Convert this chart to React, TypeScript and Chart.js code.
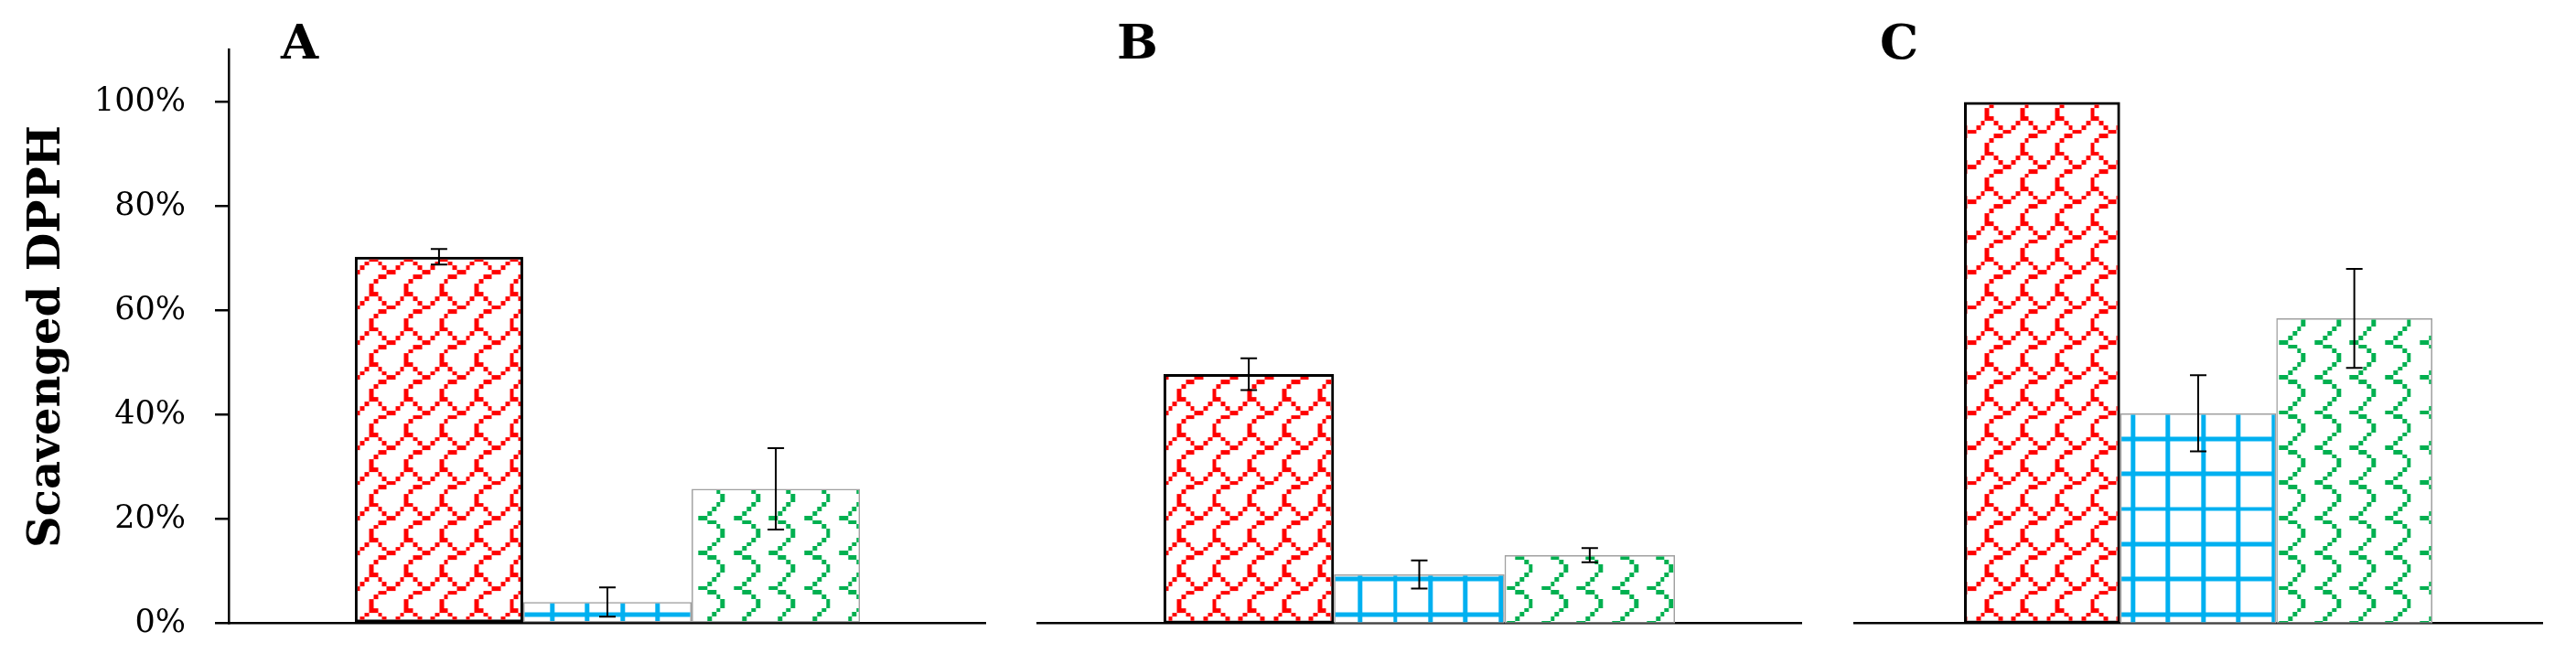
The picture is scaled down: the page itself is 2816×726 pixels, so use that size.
import React, { useEffect, useRef } from 'react';
import { Chart, registerables } from 'chart.js';

Chart.register(...registerables);

// ---------------- data ----------------
const panelLabels = ['A', 'B', 'C'];
const redValues = [70.3, 47.8, 100.0];
const redErrors = [1.5, 3.05, 0];
const blueValues = [4.1, 9.4, 40.3];
const blueErrors = [2.8, 2.7, 7.3];
const greenValues = [25.8, 13.1, 58.5];
const greenErrors = [7.8, 1.35, 9.5];
const yTickValues = [0, 20, 40, 60, 80, 100];
const yAxisMax = 110;
const yAxisTitle = 'Scavenged DPPH';

// ---------------- styling ----------------
const FONT = '"DejaVu Serif", "Liberation Serif", serif';
const CANVAS_H = 726;
const PAD_TOP = 54.4;
const PAD_BOTTOM = 44.3;

const PANEL_BOXES = [
  { left: 0, width: 1078, yWidth: 250, groupPct: 0.667, letterDx: 57 },
  { left: 1133, width: 837, yWidth: 0, groupPct: 0.668, letterDx: 88 },
  { left: 2026, width: 754, yWidth: 0, groupPct: 0.679, letterDx: 29 },
];

const SHINGLE = [
  '##......',
  '..#....#',
  '...#..#.',
  '....##..',
  '..##....',
  '.#......',
  '#.......',
  '#.......',
];
const GRID = [
  '########',
  '#.......',
  '#.......',
  '#.......',
  '#.......',
  '#.......',
  '#.......',
  '#.......',
];
const WAVE = [
  '##......',
  '..#.....',
  '...#....',
  '...#....',
  '..#.....',
  '.#......',
  '#.......',
  '......##',
];

const PERIOD_REPS = 5;
const TILE = 192; // 5 periods of 38.4px

function makePattern(bitmap: string[], color: string, phaseX: number, phaseY: number, canvasLeft: number) {
  const c = document.createElement('canvas');
  c.width = TILE;
  c.height = TILE;
  const g = c.getContext('2d')!;
  g.fillStyle = color;
  const n = 8 * PERIOD_REPS;
  for (let r = 0; r < n; r++) {
    for (let q = 0; q < n; q++) {
      if (bitmap[r % 8][q % 8] === '#') {
        const x0 = Math.round((q * TILE) / n);
        const x1 = Math.round(((q + 1) * TILE) / n);
        const y0 = Math.round((r * TILE) / n);
        const y1 = Math.round(((r + 1) * TILE) / n);
        g.fillRect(x0, y0, x1 - x0, y1 - y0);
      }
    }
  }
  const p = g.createPattern(c, 'repeat')!;
  const m = new DOMMatrix();
  m.e = phaseX - canvasLeft;
  m.f = phaseY;
  p.setTransform(m);
  return p;
}

const errorBarPlugin = {
  id: 'errorBars',
  afterDatasetsDraw(chart: any) {
    const ctx = chart.ctx;
    const yScale = chart.scales.y;
    chart.data.datasets.forEach((ds: any, i: number) => {
      const meta = chart.getDatasetMeta(i);
      meta.data.forEach((bar: any, j: number) => {
        const err = ds.errors ? ds.errors[j] : 0;
        if (!err) return;
        const v = ds.data[j];
        const yt = yScale.getPixelForValue(v + err);
        const yb = yScale.getPixelForValue(v - err);
        const x = bar.x;
        ctx.save();
        ctx.strokeStyle = '#000';
        ctx.lineWidth = 2;
        ctx.beginPath();
        ctx.moveTo(x, yt);
        ctx.lineTo(x, yb);
        ctx.moveTo(x - 9, yt);
        ctx.lineTo(x + 9, yt);
        ctx.moveTo(x - 9, yb);
        ctx.lineTo(x + 9, yb);
        ctx.stroke();
        ctx.restore();
      });
    });
  },
};

const letterPlugin = {
  id: 'panelLetter',
  afterDraw(chart: any) {
    const o = chart.options.plugins.panelLetter;
    const ctx = chart.ctx;
    ctx.save();
    ctx.font = `bold 53px ${FONT}`;
    ctx.fillStyle = '#000';
    ctx.textAlign = 'left';
    ctx.textBaseline = 'alphabetic';
    ctx.fillText(o.text, chart.chartArea.left + o.dx, 64);
    ctx.restore();
  },
};

function Panel({ index }: { index: number }) {
  const ref = useRef<HTMLCanvasElement>(null);
  const box = PANEL_BOXES[index];
  useEffect(() => {
    const canvas = ref.current!;
    const red = makePattern(SHINGLE, '#FF0000', 19.5, 12.1, box.left);
    const blue = makePattern(GRID, '#00B0F0', 25.3, 16.5, box.left);
    const green = makePattern(WAVE, '#00B050', 5.3, 31, box.left);
    const common = {
      categoryPercentage: box.groupPct,
      barPercentage: 1.0,
      borderSkipped: false,
    };
    const showY = index === 0;
    const chart = new Chart(canvas, {
      type: 'bar',
      data: {
        labels: [panelLabels[index]],
        datasets: [
          {
            label: 'Series 1',
            data: [redValues[index]],
            errors: [redErrors[index]],
            backgroundColor: red,
            borderColor: '#000000',
            borderWidth: 3,
            ...common,
          } as any,
          {
            label: 'Series 2',
            data: [blueValues[index]],
            errors: [blueErrors[index]],
            backgroundColor: blue,
            borderColor: '#A0A0A0',
            borderWidth: 1.5,
            ...common,
          } as any,
          {
            label: 'Series 3',
            data: [greenValues[index]],
            errors: [greenErrors[index]],
            backgroundColor: green,
            borderColor: '#A0A0A0',
            borderWidth: 1.5,
            ...common,
          } as any,
        ],
      },
      options: {
        responsive: false,
        maintainAspectRatio: false,
        animation: false,
        layout: { padding: { top: PAD_TOP, bottom: PAD_BOTTOM, left: 0, right: 0 } },
        plugins: {
          legend: { display: false },
          tooltip: { enabled: false },
          panelLetter: { text: panelLabels[index], dx: box.letterDx },
        } as any,
        scales: {
          x: {
            type: 'category',
            ticks: { display: false },
            grid: { display: false },
            border: { display: true, color: '#000', width: 2.5 },
            afterFit: (s: any) => {
              s.height = 0;
              s.paddingLeft = 0;
              s.paddingRight = 0;
            },
          },
          y: {
            display: showY,
            min: 0,
            max: yAxisMax,
            afterBuildTicks: (s: any) => {
              s.ticks = yTickValues.map((v) => ({ value: v }));
            },
            ticks: {
              color: '#000',
              font: { family: FONT, size: 35 },
              padding: 32,
              callback: (v: any) => `${v}%`,
            },
            grid: {
              drawOnChartArea: false,
              drawTicks: true,
              tickLength: 15,
              color: '#000',
              lineWidth: 2.5,
            },
            border: { display: true, color: '#000', width: 2.5 },
            title: {
              display: true,
              text: yAxisTitle,
              color: '#000',
              font: { family: FONT, size: 48, weight: 'bold' },
              padding: { top: 24, bottom: 0 },
            },
            afterFit: (s: any) => {
              if (showY) s.width = box.yWidth;
              s.paddingTop = 0;
              s.paddingBottom = 0;
            },
          },
        },
      },
      plugins: [errorBarPlugin, letterPlugin],
    } as any);
    return () => chart.destroy();
  }, []);
  return (
    <canvas
      ref={ref}
      width={box.width}
      height={CANVAS_H}
      style={{ position: 'absolute', left: box.left, top: 0, width: box.width, height: CANVAS_H }}
    />
  );
}

export default function App() {
  return (
    <div
      style={{
        position: 'absolute',
        left: 0,
        top: 0,
        width: 2816,
        height: CANVAS_H,
        background: '#ffffff',
        overflow: 'hidden',
      }}
    >
      {PANEL_BOXES.map((_, i) => (
        <Panel key={i} index={i} />
      ))}
    </div>
  );
}
